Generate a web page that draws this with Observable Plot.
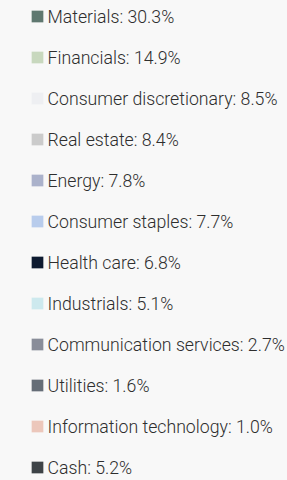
<!DOCTYPE html>
<html>
<head>
<meta charset="utf-8">
<script src="https://cdn.jsdelivr.net/npm/d3@7"></script>
<script src="https://cdn.jsdelivr.net/npm/@observablehq/plot@0.6"></script>
<style>
  html, body { margin: 0; padding: 0; background: #f8f8f8; }
  #chart svg { display: block; background: #f8f8f8; }
</style>
</head>
<body>
<div id="chart"></div>
<script>
const sectors = ["Materials", "Financials", "Consumer discretionary", "Real estate", "Energy", "Consumer staples", "Health care", "Industrials", "Communication services", "Utilities", "Information technology", "Cash"];
const weights = [30.3, 14.9, 8.5, 8.4, 7.8, 7.7, 6.8, 5.1, 2.7, 1.6, 1.0, 5.2];
const colors = ["#5f7870", "#c8d8be", "#eeeff2", "#cbcbcb", "#abb2cb", "#b8ccec", "#0d1a30", "#cde9ee", "#898d99", "#656d77", "#ecc7bb", "#3e4347"];

const data = sectors.map((s, i) => ({sector: s, weight: weights[i], label: `${s}: ${weights[i].toFixed(1)}%`}));

const chart = Plot.plot({
  width: 287,
  height: 480,
  marginTop: 15,
  marginBottom: 12,
  marginLeft: 37,
  marginRight: 0,
  style: {background: "#f8f8f8", fontFamily: "Roboto, sans-serif"},
  x: {domain: [0, 1], axis: null},
  y: {type: "point", domain: sectors, padding: 0, axis: null},
  color: {domain: sectors, range: colors},
  marks: [
    Plot.dot(data, {x: () => 0, y: "sector", fill: "sector", symbol: "square", r: 6.6}),
    Plot.text(data, {x: () => 0, y: "sector", text: "label", textAnchor: "start", dx: 10, dy: 1, fontSize: 17.7, fontWeight: 300, fill: "#2e2e2e"})
  ]
});
document.getElementById("chart").append(chart);
</script>
</body>
</html>
